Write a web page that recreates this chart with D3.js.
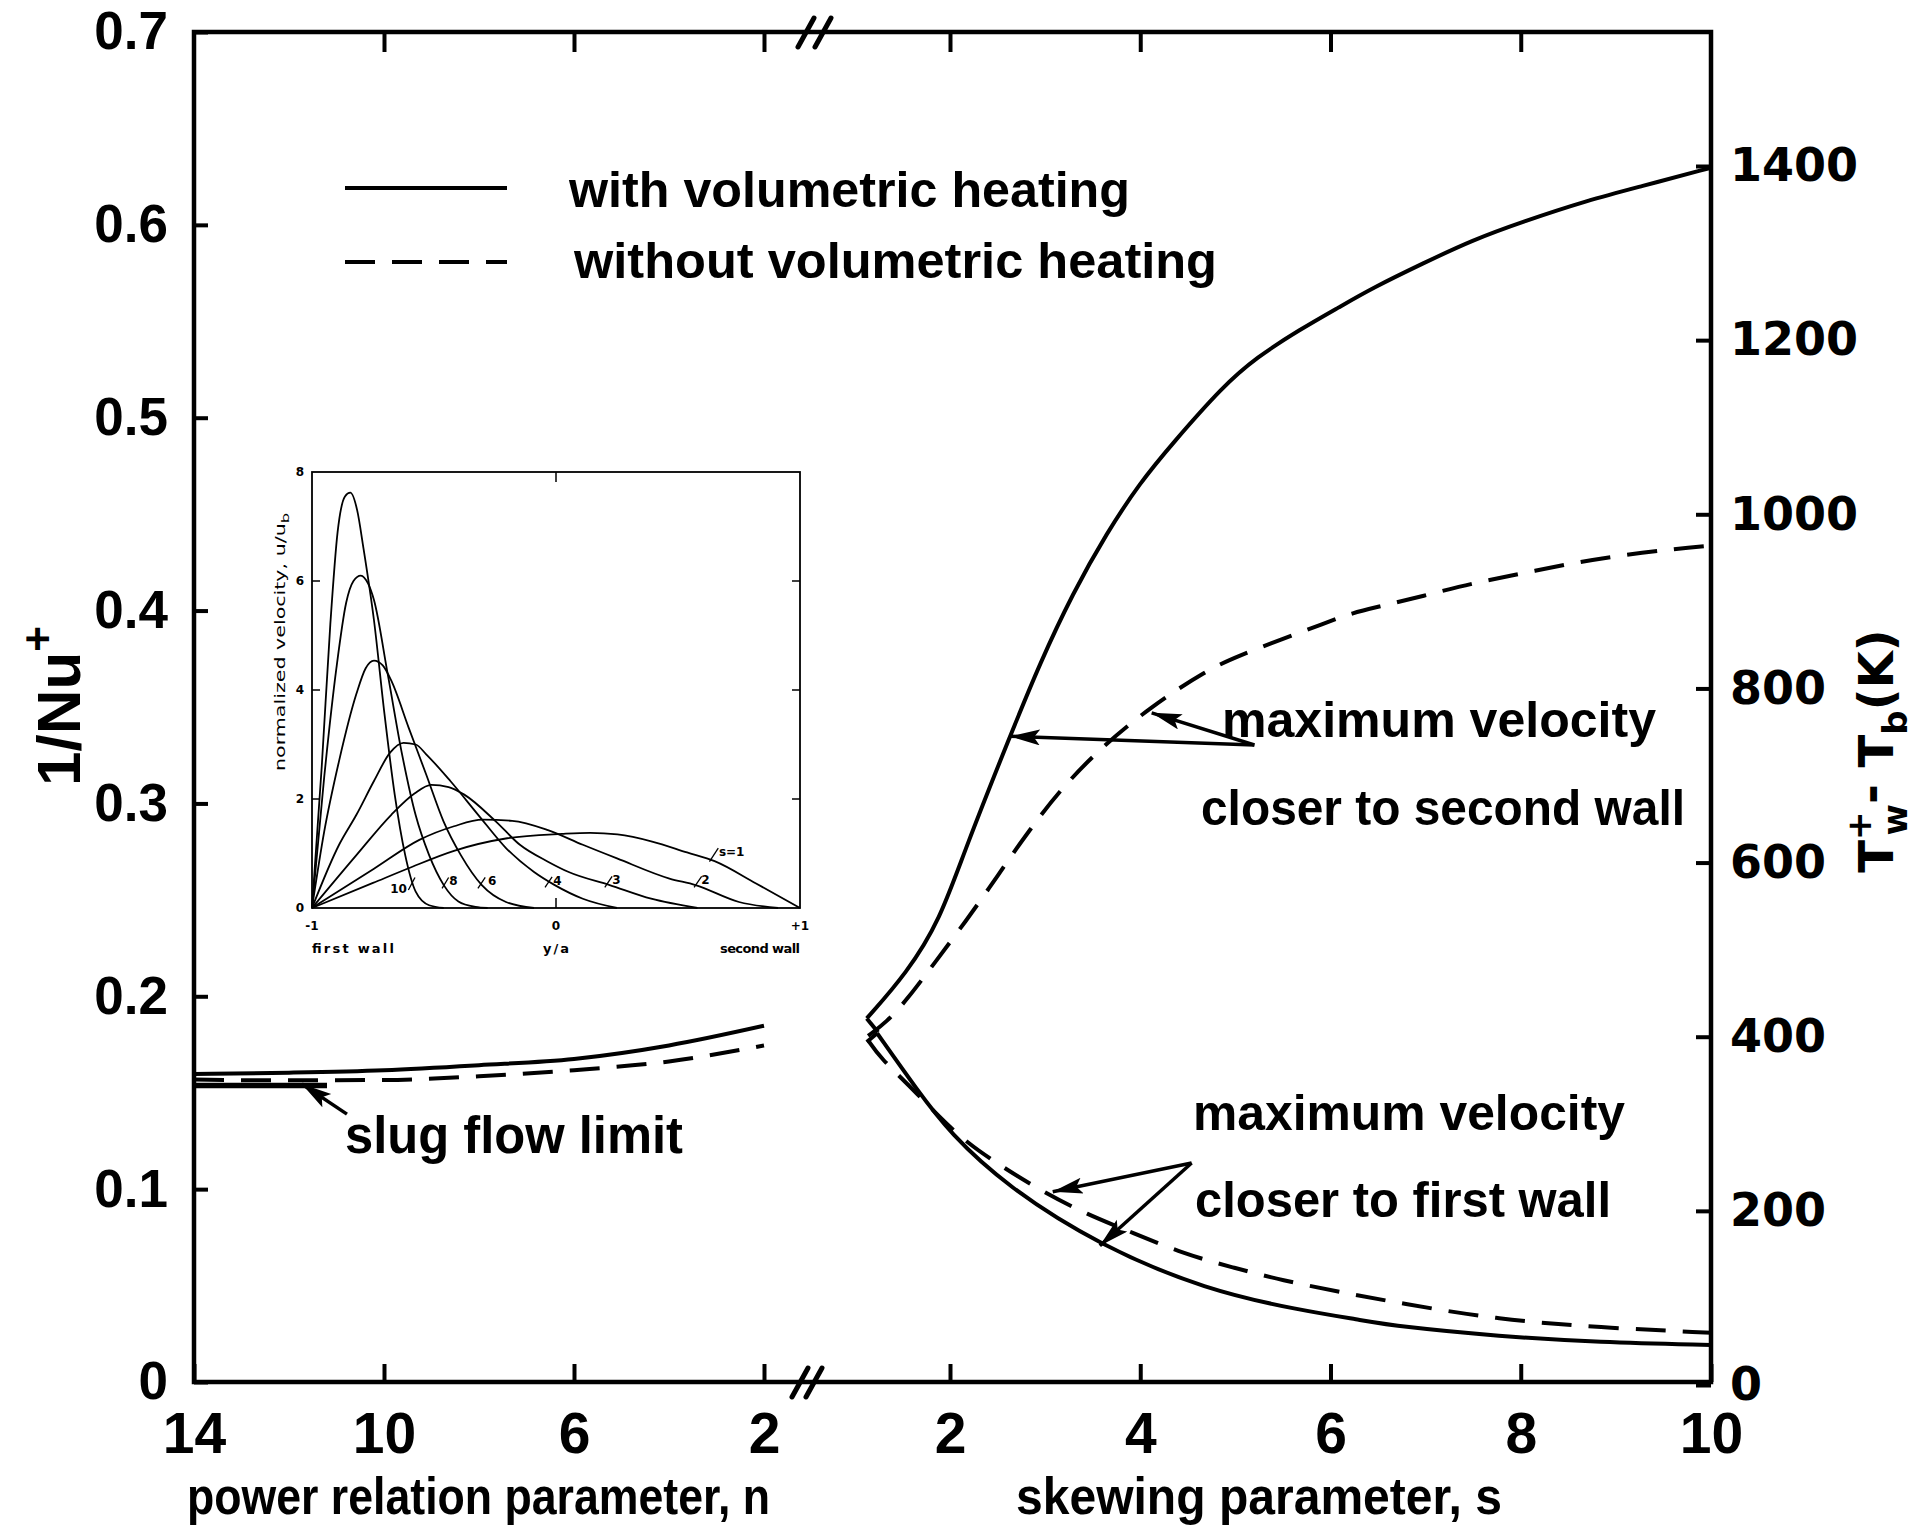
<!DOCTYPE html>
<html>
<head>
<meta charset="utf-8">
<script src="https://cdn.jsdelivr.net/npm/d3@7"></script>
<style>
body { margin: 0; background: #fff; }
svg { display: block; }
</style>
</head>
<body>
<div id="container"></div>
<script>
const width = 1931;
const height = 1529;

// ---------------- data ----------------
const nTicks = [14, 10, 6, 2];
const sTicks = [2, 4, 6, 8, 10];
const nuTicks = [0, 0.1, 0.2, 0.3, 0.4, 0.5, 0.6, 0.7];
const tTicks = [0, 200, 400, 600, 800, 1000, 1200, 1400];

// left part: 1/Nu+ against n
const nWithHeat = [[14, 0.1597], [12, 0.1604], [10, 0.1617], [8, 0.1643], [6, 0.1675], [4, 0.1745], [2, 0.1847]];
const nWithoutHeat = [[14, 0.1568], [12, 0.1564], [10, 0.1566], [8, 0.1585], [6, 0.1617], [4, 0.1662], [2, 0.1745]];
const slugLimit = [[14, 0.1538], [11.2, 0.1538]];

// right part: Tw+ - Tb (K) against s  (first point of the "Heat" curves is the kink at the junction)
const secondWallHeat = [[1.244, 405], [1.125, 421], [1.545, 473], [1.895, 534], [2.157, 615], [2.63, 745], [2.945, 829],
  [3.294, 910], [3.645, 978], [3.995, 1036], [4.344, 1082], [4.869, 1147], [5.22, 1180], [5.675, 1212], [6.094, 1238],
  [6.444, 1260], [6.969, 1288], [7.494, 1315], [8.019, 1336], [8.719, 1361], [9.244, 1376], [10, 1398]];
const firstWallHeat = [[1.125, 394], [1.234, 404], [1.654, 339], [2.0, 289], [2.598, 228], [3.575, 160], [4.698, 109],
  [5.675, 86], [6.3, 75], [6.72, 67], [7.77, 56], [8.82, 49], [10, 46]];
const secondWallNoHeat = [[1.139, 401], [1.335, 417], [1.545, 442], [1.86, 488], [2.175, 534], [2.42, 572], [2.595, 600],
  [2.84, 638], [3.155, 683], [3.575, 731], [4.1, 778], [4.695, 821], [5.045, 838], [5.499, 857], [5.919, 874],
  [6.234, 887], [6.514, 894], [6.969, 906], [7.494, 921], [8.019, 932], [8.544, 944], [9.069, 953], [9.594, 960], [10, 964]];
const firstWallNoHeat = [[1.139, 396], [1.265, 376], [1.58, 343], [1.895, 307], [2.178, 278], [2.556, 250], [2.976, 222],
  [3.438, 196], [3.921, 175], [4.446, 151], [4.971, 135], [5.496, 120], [6.094, 107], [6.724, 94], [7.774, 75], [8.824, 66], [10, 60]];

// inset: normalized velocity u/ub against y/a
const insetTicksY = [0, 2, 4, 6, 8];
const insetTicksX = ["-1", "0", "+1"];
const profS1 = [[-1, 0], [-0.75, 0.46], [-0.604, 0.73], [-0.418, 1.05], [-0.2, 1.28], [0.024, 1.36], [0.14, 1.38],
  [0.252, 1.35], [0.394, 1.22], [0.537, 1.02], [0.65, 0.86], [0.82, 0.45], [1, 0]];
const profS2 = [[-1, 0], [-0.746, 0.72], [-0.56, 1.25], [-0.418, 1.5], [-0.3, 1.62], [-0.18, 1.6], [-0.033, 1.43],
  [0.11, 1.16], [0.25, 0.91], [0.465, 0.54], [0.572, 0.42], [0.75, 0.11], [0.91, 0]];
const profS3 = [[-1, 0], [-0.818, 0.97], [-0.675, 1.71], [-0.58, 2.1], [-0.511, 2.26], [-0.44, 2.22], [-0.376, 2.08],
  [-0.247, 1.59], [-0.148, 1.16], [-0.033, 0.85], [0.052, 0.66], [0.22, 0.42], [0.39, 0.17], [0.58, 0]];
const profS4 = [[-1, 0], [-0.889, 1.16], [-0.818, 1.71], [-0.746, 2.33], [-0.68, 2.85], [-0.625, 3.03], [-0.575, 3.0],
  [-0.532, 2.82], [-0.433, 2.33], [-0.319, 1.71], [-0.205, 1.1], [-0.09, 0.66], [-0.005, 0.42], [0.11, 0.17], [0.25, 0]];
const profS6 = [[-1, 0], [-0.95, 1.4], [-0.889, 2.7], [-0.818, 3.93], [-0.78, 4.4], [-0.746, 4.54], [-0.71, 4.45],
  [-0.675, 4.17], [-0.604, 3.31], [-0.532, 2.45], [-0.461, 1.59], [-0.39, 0.97], [-0.304, 0.42], [-0.205, 0.11], [-0.09, 0]];
const profS8 = [[-1, 0], [-0.95, 2.4], [-0.9, 4.4], [-0.86, 5.6], [-0.83, 6.0], [-0.8, 6.1], [-0.77, 5.95], [-0.746, 5.65],
  [-0.69, 4.3], [-0.63, 2.8], [-0.575, 1.7], [-0.52, 0.97], [-0.46, 0.42], [-0.4, 0.12], [-0.33, 0.02], [-0.28, 0]];
const profS10 = [[-1, 0], [-0.96, 2.6], [-0.925, 5.2], [-0.895, 6.9], [-0.865, 7.55], [-0.843, 7.62], [-0.815, 7.3],
  [-0.789, 6.6], [-0.746, 5.28], [-0.703, 3.56], [-0.661, 2.08], [-0.618, 0.97], [-0.575, 0.3], [-0.52, 0.05], [-0.46, 0]];
const profiles = [profS1, profS2, profS3, profS4, profS6, profS8, profS10];

// ---------------- layout ----------------
const box = {left: 194, right: 1711, top: 32, bottom: 1382};
const mainFont = "'Liberation Sans', Arial, sans-serif";
const wideFont = "'DejaVu Sans', sans-serif";
const lw = 4;

const svg = d3.select("div#container").append("svg")
  .attr("width", width).attr("height", height);
svg.append("rect").attr("width", width).attr("height", height).attr("fill", "#fff");

const defs = svg.append("defs");
defs.append("marker").attr("id", "head")
  .attr("markerUnits", "userSpaceOnUse")
  .attr("markerWidth", 34).attr("markerHeight", 20)
  .attr("refX", 30).attr("refY", 8).attr("orient", "auto")
  .append("path").attr("d", "M0,0 L30,8 L0,16 L6,8 Z").attr("fill", "#000");

//----------------------------SCALES----------------------------//
const xN = d3.scaleLinear().domain([14, 2]).range([box.left, 764]);
const xS = d3.scaleLinear().domain([2, 10]).range([950, box.right]);
const yL = d3.scaleLinear().domain([0, 0.7]).range([box.bottom, box.top]);
const yR = d3.scaleLinear().domain([0, 1400]).range([1385, 166]);

//-----------------------------AXES-----------------------------//
function styleAxis(g, font, size) {
  g.select(".domain").remove();
  g.attr("font-family", font).attr("font-size", size).attr("font-weight", "bold");
  g.selectAll(".tick line").attr("stroke-width", lw);
  g.selectAll(".tick text").attr("fill", "#000");
}

svg.append("g").attr("transform", "translate(0," + box.bottom + ")")
  .call(d3.axisBottom(xN).tickValues(nTicks).tickSize(-18).tickPadding(31).tickFormat(d3.format("d")))
  .call(g => styleAxis(g, mainFont, 57));
svg.append("g").attr("transform", "translate(0," + box.bottom + ")")
  .call(d3.axisBottom(xS).tickValues(sTicks).tickSize(-18).tickPadding(31).tickFormat(d3.format("d")))
  .call(g => styleAxis(g, mainFont, 57));
svg.append("g").attr("transform", "translate(0," + box.top + ")")
  .call(d3.axisTop(xN).tickValues(nTicks.slice(1)).tickSize(-20).tickFormat(""))
  .call(g => styleAxis(g, mainFont, 10));
svg.append("g").attr("transform", "translate(0," + box.top + ")")
  .call(d3.axisTop(xS).tickValues(sTicks.slice(0, 4)).tickSize(-20).tickFormat(""))
  .call(g => styleAxis(g, mainFont, 10));
svg.append("g").attr("transform", "translate(" + box.left + ",0)")
  .call(d3.axisLeft(yL).tickValues(nuTicks).tickSize(-14).tickPadding(26)
    .tickFormat(d => d === 0 ? "0" : d3.format(".1f")(d)))
  .call(g => styleAxis(g, mainFont, 53));
svg.append("g").attr("transform", "translate(" + box.right + ",0)")
  .call(d3.axisRight(yR).tickValues(tTicks).tickSize(-15).tickPadding(19).tickFormat(d3.format("d")))
  .call(g => styleAxis(g, wideFont, 46));

// frame
svg.append("rect")
  .attr("x", box.left).attr("y", box.top)
  .attr("width", box.right - box.left).attr("height", box.bottom - box.top)
  .attr("fill", "none").attr("stroke", "#000").attr("stroke-width", lw + 0.5);

// axis break marks
const breakX = xN(2) + 42;
[[breakX, box.top], [breakX + 17, box.top], [breakX - 6, box.bottom], [breakX + 8, box.bottom]].forEach(p => {
  svg.append("line")
    .attr("x1", p[0] - 8).attr("y1", p[1] + 15)
    .attr("x2", p[0] + 8).attr("y2", p[1] - 14)
    .attr("stroke", "#000").attr("stroke-width", lw + 1).attr("stroke-linecap", "round");
});

//----------------------------LINES-----------------------------//
const lineN = d3.line().x(d => xN(d[0])).y(d => yL(d[1])).curve(d3.curveMonotoneX);
const lineS = d3.line().x(d => xS(d[0])).y(d => yR(d[1])).curve(d3.curveBasis);
const lineSLin = d3.line().x(d => xS(d[0])).y(d => yR(d[1]));
const dash = "30,17";

function drawLine(data, gen, dashed, w) {
  svg.append("path").attr("d", gen(data))
    .attr("fill", "none").attr("stroke", "#000")
    .attr("stroke-width", w || lw)
    .attr("stroke-linejoin", "round")
    .attr("stroke-dasharray", dashed ? dash : null);
}
// straight kink piece at the junction, then the smooth curve
function drawKinked(data) {
  drawLine(data.slice(0, 2), lineSLin, false);
  drawLine(data.slice(1), lineS, false);
}
drawLine(nWithHeat, lineN, false);
drawLine(nWithoutHeat, lineN, true);
drawLine(slugLimit, lineN, false, 5.5);
drawKinked(secondWallHeat);
drawKinked(firstWallHeat);
drawLine(secondWallNoHeat, lineS, true);
drawLine(firstWallNoHeat, lineS, true);

//---------------------------LEGEND-----------------------------//
svg.append("line").attr("x1", 345).attr("x2", 507).attr("y1", 188).attr("y2", 188)
  .attr("stroke", "#000").attr("stroke-width", lw);
svg.append("line").attr("x1", 345).attr("x2", 507).attr("y1", 262).attr("y2", 262)
  .attr("stroke", "#000").attr("stroke-width", lw).attr("stroke-dasharray", dash);

function label(txt, x, y, len, size, anchor) {
  return svg.append("text").attr("x", x).attr("y", y)
    .attr("font-family", mainFont).attr("font-weight", "bold")
    .attr("font-size", size || 50)
    .attr("text-anchor", anchor || "start")
    .attr("textLength", len).attr("lengthAdjust", "spacingAndGlyphs")
    .text(txt);
}
label("with volumetric heating", 569, 207, 561);
label("without volumetric heating", 574, 278, 643);
label("maximum velocity", 1222, 737, 434);
label("closer to second wall", 1201, 825, 484);
label("maximum velocity", 1193, 1130, 432);
label("closer to first wall", 1195, 1217, 416);
label("slug flow limit", 345, 1153, 338, 51);
label("power relation parameter, n", 187, 1514, 583, 52);
label("skewing parameter, s", 1016, 1514, 486, 52);

// axis titles
const yTitle = svg.append("text")
  .attr("transform", "translate(80,706) rotate(-90)")
  .attr("text-anchor", "middle")
  .attr("font-family", mainFont).attr("font-weight", "bold").attr("font-size", 62);
yTitle.append("tspan").text("1/Nu");
yTitle.append("tspan").attr("font-size", 44).attr("dy", -27).text("+");

const tTitle = svg.append("text")
  .attr("transform", "translate(1893,751) rotate(-90)")
  .attr("text-anchor", "middle")
  .attr("font-family", wideFont).attr("font-weight", "bold").attr("font-size", 48);
tTitle.append("tspan").text("T");
tTitle.append("tspan").attr("font-size", 34).attr("dy", -22).text("+");
tTitle.append("tspan").attr("font-size", 34).attr("dx", -24).attr("dy", 36).text("w");
tTitle.append("tspan").attr("dy", -20).text("-");
tTitle.append("tspan").attr("dy", 6).text(" T");
tTitle.append("tspan").attr("font-size", 34).attr("dy", 14).text("b");
tTitle.append("tspan").attr("dy", -14).text("(K)");

//---------------------------ARROWS-----------------------------//
const arrowsS = [
  {from: [5.2, 735], to: [2.63, 745]},
  {from: [5.2, 735], to: [4.12, 772]},
  {from: [4.54, 255], to: [3.08, 222]},
  {from: [4.54, 255], to: [3.575, 160]}
];
arrowsS.forEach(a => {
  svg.append("line")
    .attr("x1", xS(a.from[0])).attr("y1", yR(a.from[1]))
    .attr("x2", xS(a.to[0])).attr("y2", yR(a.to[1]))
    .attr("stroke", "#000").attr("stroke-width", 3.5)
    .attr("marker-end", "url(#head)");
});
svg.append("line")
  .attr("x1", xN(10.78)).attr("y1", yL(0.1389))
  .attr("x2", xN(11.73)).attr("y2", yL(0.1545))
  .attr("stroke", "#000").attr("stroke-width", 3.5)
  .attr("marker-end", "url(#head)");

//----------------------------INSET-----------------------------//
const inset = {left: 312, right: 800, top: 472, bottom: 908};
const xI = d3.scaleLinear().domain([-1, 1]).range([inset.left, inset.right]);
const yI = d3.scaleLinear().domain([0, 8]).range([inset.bottom, inset.top]);
const gi = svg.append("g");
const insetFont = "'DejaVu Sans', sans-serif";

gi.append("rect").attr("x", inset.left).attr("y", inset.top)
  .attr("width", inset.right - inset.left).attr("height", inset.bottom - inset.top)
  .attr("fill", "#fff").attr("stroke", "#000").attr("stroke-width", 1.8);

[2, 4, 6].forEach(v => {
  gi.append("line").attr("x1", inset.left).attr("x2", inset.left + 8)
    .attr("y1", yI(v)).attr("y2", yI(v)).attr("stroke", "#000").attr("stroke-width", 1.5);
  gi.append("line").attr("x1", inset.right).attr("x2", inset.right - 8)
    .attr("y1", yI(v)).attr("y2", yI(v)).attr("stroke", "#000").attr("stroke-width", 1.5);
});
gi.append("line").attr("x1", xI(0)).attr("x2", xI(0)).attr("y1", inset.top).attr("y2", inset.top + 10)
  .attr("stroke", "#000").attr("stroke-width", 1.5);
gi.append("line").attr("x1", xI(0)).attr("x2", xI(0)).attr("y1", inset.bottom).attr("y2", inset.bottom - 10)
  .attr("stroke", "#000").attr("stroke-width", 1.5);

insetTicksY.forEach(v => {
  gi.append("text").attr("x", inset.left - 12).attr("y", yI(v)).attr("dy", "0.35em")
    .attr("text-anchor", "middle").attr("font-family", insetFont).attr("font-weight", "bold")
    .attr("font-size", 12).text(v);
});
insetTicksX.forEach(t => {
  gi.append("text").attr("x", xI(+t)).attr("y", inset.bottom + 22)
    .attr("text-anchor", "middle").attr("font-family", insetFont).attr("font-weight", "bold")
    .attr("font-size", 12).text(t);
});
[["first wall", inset.left, "start", 82], ["y/a", xI(0), "middle", 26], ["second wall", inset.right, "end", 80]].forEach(t => {
  gi.append("text").attr("x", t[1]).attr("y", inset.bottom + 45)
    .attr("text-anchor", t[2]).attr("font-family", insetFont).attr("font-weight", "bold")
    .attr("font-size", 13).attr("textLength", t[3]).attr("lengthAdjust", "spacing").text(t[0]);
});
const yLab = gi.append("text")
  .attr("transform", "translate(" + (inset.left - 27) + ",642) rotate(-90)")
  .attr("text-anchor", "middle").attr("font-family", insetFont).attr("font-size", 14)
  .attr("textLength", 258).attr("lengthAdjust", "spacingAndGlyphs");
yLab.append("tspan").text("normalized velocity, u/u");
yLab.append("tspan").attr("font-size", 11).attr("dy", 4).text("b");

const lineI = d3.line().x(d => xI(d[0])).y(d => yI(d[1])).curve(d3.curveMonotoneX);
gi.selectAll(".prof").data(profiles).enter().append("path")
  .attr("d", d => lineI(d))
  .attr("fill", "none").attr("stroke", "#000").attr("stroke-width", 1.8);

const insetLabels = [
  {t: "10", at: [-0.645, 0.36], lead: [[-0.605, 0.33], [-0.578, 0.56]]},
  {t: "8", at: [-0.42, 0.49], lead: [[-0.467, 0.36], [-0.44, 0.56]]},
  {t: "6", at: [-0.262, 0.49], lead: [[-0.32, 0.36], [-0.29, 0.56]]},
  {t: "4", at: [0.006, 0.49], lead: [[-0.045, 0.38], [-0.016, 0.57]]},
  {t: "3", at: [0.248, 0.51], lead: [[0.2, 0.38], [0.23, 0.58]]},
  {t: "2", at: [0.612, 0.51], lead: [[0.566, 0.38], [0.597, 0.58]]},
  {t: "s=1", at: [0.72, 1.03], lead: [[0.629, 0.85], [0.665, 1.1]]}
];
insetLabels.forEach(l => {
  gi.append("line")
    .attr("x1", xI(l.lead[0][0])).attr("y1", yI(l.lead[0][1]))
    .attr("x2", xI(l.lead[1][0])).attr("y2", yI(l.lead[1][1]))
    .attr("stroke", "#000").attr("stroke-width", 1.3);
  gi.append("text").attr("x", xI(l.at[0])).attr("y", yI(l.at[1])).attr("dy", "0.35em")
    .attr("text-anchor", "middle").attr("font-family", insetFont).attr("font-weight", "bold")
    .attr("font-size", 12).text(l.t);
});
</script>
</body>
</html>
